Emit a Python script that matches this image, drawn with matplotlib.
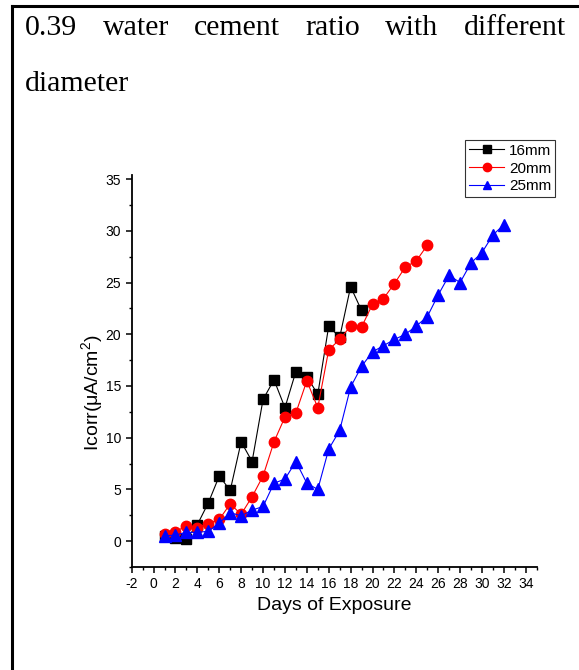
import numpy as np
import matplotlib
matplotlib.use('Agg')
import matplotlib.pyplot as plt
from matplotlib.ticker import MultipleLocator
from matplotlib.lines import Line2D

# Icorr readings (uA/cm2) per day of exposure
days_16 = list(range(1, 20))
icorr_16 = [0.5, 0.3, 0.2, 1.6, 3.7, 6.3, 4.9, 9.6, 7.7, 13.7,
            15.6, 12.9, 16.4, 15.9, 14.2, 20.8, 19.7, 24.6, 22.3]

days_20 = list(range(1, 26))
icorr_20 = [0.65, 0.9, 1.5, 1.3, 1.7, 2.1, 3.6, 2.6, 4.3, 6.3,
            9.6, 12.0, 12.4, 15.5, 12.9, 18.5, 19.5, 20.8, 20.7, 22.9,
            23.45, 24.9, 26.5, 27.1, 28.6]

days_25 = list(range(1, 33))
icorr_25 = [0.5, 0.6, 0.85, 0.85, 0.95, 1.75, 2.75, 2.45, 3.0, 3.35,
            5.6, 6.0, 7.7, 5.6, 5.0, 8.9, 10.7, 14.9, 16.9, 18.3,
            18.9, 19.5, 20.0, 20.8, 21.7, 23.8, 25.7, 25.0, 26.9, 27.9,
            29.6, 30.6]

labels = ['16mm', '20mm', '25mm']
title_words = ['0.39', 'water', 'cement', 'ratio', 'with', 'different']
title_line2 = 'diameter'

plt.rcParams['font.family'] = ['Liberation Sans', 'DejaVu Sans']
plt.rcParams['mathtext.fontset'] = 'custom'
plt.rcParams['mathtext.rm'] = 'Liberation Sans'
plt.rcParams['mathtext.it'] = 'Liberation Sans:italic'
plt.rcParams['axes.unicode_minus'] = False

W, H = 579, 670
fig = plt.figure(figsize=(W / 100, H / 100), dpi=100)

# cell border (left and top only)
fig.add_artist(Line2D([11.5 / W, 11.5 / W], [0, 1 - 5.5 / H], color='black', lw=2.2))
fig.add_artist(Line2D([11.5 / W, 1], [1 - 5.5 / H, 1 - 5.5 / H], color='black', lw=2.2))

# justified heading, first line
renderer = fig.canvas.get_renderer()
x_left, x_right = 25, 566
y1 = 1 - 35 / H
txts = [fig.text(0, y1, w, family=['Liberation Serif'], fontsize=21.5, va='baseline')
        for w in title_words]
widths = [t.get_window_extent(renderer).width for t in txts]
gap = (x_right - x_left - sum(widths)) / (len(txts) - 1)
x = x_left
for t, w in zip(txts, widths):
    t.set_x(x / W)
    x += w + gap
fig.text(x_left / W, 1 - 91 / H, title_line2, family=['Liberation Serif'],
         fontsize=21.5, va='baseline')

ax = fig.add_axes([131.7 / W, 1 - 567 / H, 405 / W, 392 / H])
ax.plot(days_16, icorr_16, color='black', lw=0.8, marker='s', ms=6.5, label=labels[0])
ax.plot(days_20, icorr_20, color='red', lw=0.8, marker='o', ms=7.5, label=labels[1])
ax.plot(days_25, icorr_25, color='blue', lw=0.8, marker='^', ms=8, label=labels[2])

ax.set_xlim(-2, 35)
ax.set_ylim(-2.5, 35.4)
ax.xaxis.set_major_locator(MultipleLocator(2))
ax.xaxis.set_minor_locator(MultipleLocator(1))
ax.yaxis.set_major_locator(MultipleLocator(5))
ax.yaxis.set_minor_locator(MultipleLocator(2.5))
ax.set_xticks(np.arange(-2, 35, 2))
ax.set_yticks(np.arange(0, 36, 5))
for s in ['top', 'right']:
    ax.spines[s].set_visible(False)
for s in ['left', 'bottom']:
    ax.spines[s].set_linewidth(1.3)
ax.tick_params(which='major', direction='out', length=4.5, width=1.1, labelsize=10, pad=3)
ax.tick_params(which='minor', direction='out', length=2.5, width=1.0)

ax.set_xlabel('Days of Exposure', fontsize=14, labelpad=4)
ax.text(-0.098, 0.446, 'Icorr(μA/cm$^2$)', transform=ax.transAxes, rotation=90,
        ha='center', va='center', fontsize=14)

ax.legend(loc='upper right', bbox_to_anchor=(555 / W, 1 - 140 / H),
          bbox_transform=fig.transFigure, fontsize=11, frameon=True, fancybox=False,
          edgecolor='black', borderpad=0.25, labelspacing=0.25, handlelength=2.3,
          handletextpad=0.3, borderaxespad=0, markerscale=0.8)
ax.get_legend().get_frame().set_linewidth(0.8)

fig.savefig('out.png', dpi=100)
